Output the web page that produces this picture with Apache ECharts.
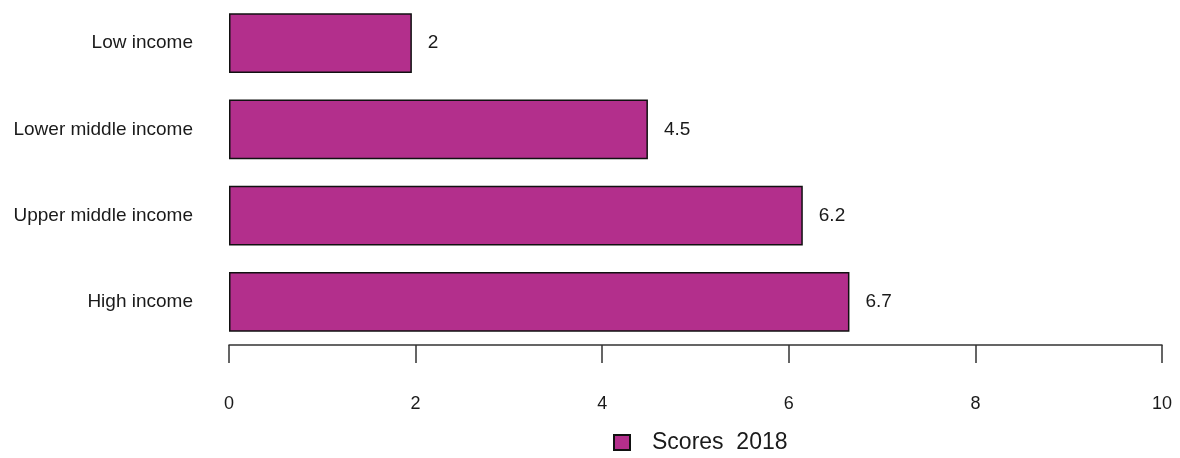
<!DOCTYPE html>
<html>
<head>
<meta charset="utf-8">
<script src="https://cdn.jsdelivr.net/npm/echarts@6/dist/echarts.min.js"></script>
<style>html,body{margin:0;padding:0;background:#fff}#c{width:1180px;height:458px}</style>
</head>
<body>
<div id="c"></div>
<script>
const categories = ["Low income", "Lower middle income", "Upper middle income", "High income"];
const scores2018 = [1.96, 4.49, 6.15, 6.65];
const valueLabels = ["2", "4.5", "6.2", "6.7"];
const xTicks = [0, 2, 4, 6, 8, 10];
const seriesName = "Scores  2018";

const FONT = 'Liberation Sans, Arial, sans-serif';
const chart = echarts.init(document.getElementById('c'));
chart.setOption({
  animation: false,
  textStyle: { fontFamily: FONT },
  grid: { left: 229, right: 18, top: -1, height: 346 },
  legend: {
    left: 608, top: 426,
    itemWidth: 16, itemHeight: 15,
    icon: 'rect',
    textStyle: { fontSize: 23, color: '#1a1a1a', fontFamily: FONT, padding: [0, 0, 0, 17] },
    data: [seriesName]
  },
  xAxis: {
    type: 'value', min: xTicks[0], max: xTicks[xTicks.length - 1], interval: 2,
    axisLine: { show: true, lineStyle: { color: '#333', width: 1.5 } },
    axisTick: { show: true, length: 18, lineStyle: { color: '#333', width: 1.5 } },
    axisLabel: { margin: 50, fontSize: 18, color: '#1a1a1a' },
    splitLine: { show: false }
  },
  yAxis: {
    type: 'category', data: categories, inverse: true,
    axisLine: { show: false }, axisTick: { show: false },
    axisLabel: { margin: 36, fontSize: 19, color: '#1a1a1a' }
  },
  series: [{
    name: seriesName, type: 'bar', data: scores2018,
    barCategoryGap: '31%',
    itemStyle: { color: '#B32F8C', borderColor: '#111', borderWidth: 1.5 },
    label: {
      show: true, position: 'right', distance: 16, fontSize: 19, color: '#1a1a1a',
      formatter: p => valueLabels[p.dataIndex]
    }
  }]
});
</script>
</body>
</html>
